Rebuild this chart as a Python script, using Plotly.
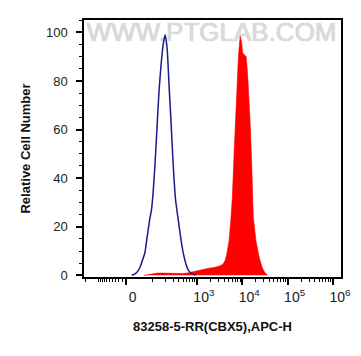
import numpy as np
import plotly.graph_objects as go

# ---- data (APC-H intensity, relative cell number) ----
blue_apc = [17, 29, 42, 53, 62, 70, 83, 93, 101, 114, 130, 142, 159, 177, 197,
            219, 243, 266, 300, 338, 389, 443, 504, 588, 652, 762, 936]
blue_count = [0, 0.8, 3, 6.5, 9.5, 15, 22.7, 27, 33, 46, 64, 76, 87, 95, 99,
              93, 77, 64, 45, 31, 22.7, 15, 8.9, 4, 2, 0.8, 0]

red_apc = [57, 75, 101, 135, 177, 231, 351, 504, 652, 844, 1092, 1413, 1827, 2362,
           3055, 3752, 4158, 4493, 5108, 5575, 6053, 6604, 7133, 7586, 8237, 8991,
           9711, 10224, 11043, 12238, 13219, 13775, 15030, 16234, 17535, 20142,
           23873, 27850, 30866, 36003]
red_count = [0, 0.3, 0.6, 0.9, 0.9, 0.9, 0.6, 0.7, 1.0, 1.5, 2.1, 2.6, 2.9, 3.2,
             3.7, 4.5, 6, 8, 14, 22, 32, 50, 63, 77, 90, 98.5,
             96, 91.5, 91, 90, 82, 77, 62, 45, 24, 14,
             7, 3, 1.4, 0]

major_ticks = [0, 1e3, 1e4, 1e5, 1e6]
major_labels = ["0", "10<sup>3</sup>", "10<sup>4</sup>", "10<sup>5</sup>", "10<sup>6</sup>"]
minor_ticks = ([-200, -100] + list(range(-90, 0, 10)) + list(range(100, 1000, 100))
               + list(range(2000, 10000, 1000)) + list(range(20000, 100000, 10000))
               + list(range(200000, 1000000, 100000)))

x_range_raw = [-220, 1.5e6]
y_range = [-0.7, 105.1]

W = 54.0


def tf(v):
    return np.arcsinh(np.asarray(v, dtype=float) / W) / np.log(10)


xr = [float(tf(x_range_raw[0])), float(tf(x_range_raw[1]))]

fig = go.Figure()

# watermark (under the data)
fig.add_trace(go.Scatter(
    x=[(xr[0] + xr[1]) / 2 - 0.02], y=[y_range[1] - 5.8], mode="text",
    text=["WWW.PTGLAB.COM"],
    textfont=dict(family="Liberation Sans, Arial", size=26, color="#dcdcdc",
                  shadow="0px 0px 1px #a8a8a8"),
    hoverinfo="skip", showlegend=False))

fig.add_trace(go.Scatter(
    x=tf(red_apc), y=red_count, mode="lines", fill="tozeroy",
    fillcolor="#ff0000", line=dict(color="#ff0000", width=0.6),
    showlegend=False))

fig.add_trace(go.Scatter(
    x=tf(blue_apc), y=blue_count, mode="lines",
    line=dict(color="#1a1a8c", width=1.5, shape="spline", smoothing=0.5),
    showlegend=False))

# helper trace so the minor-tick axis is drawn
fig.add_trace(go.Scatter(x=[None], y=[None], xaxis="x2", showlegend=False,
                         hoverinfo="skip"))

tick_font = dict(family="Liberation Sans, Arial", size=13, color="#222")
title_font = dict(family="Liberation Sans, Arial", size=13, color="#111")

# the page body adds an 8 px offset, so the figure is 353x348 drawn at (8, 8)
fig.update_layout(
    width=353, height=348,
    margin=dict(l=76, r=20, t=12, b=79, autoexpand=False),
    paper_bgcolor="white", plot_bgcolor="white",
    xaxis=dict(
        range=xr, showgrid=False, zeroline=False, automargin=False,
        showline=True, linecolor="black", linewidth=1.5, mirror=True,
        ticks="outside", ticklen=6, tickwidth=1.5, tickcolor="black",
        tickvals=tf(major_ticks), ticktext=major_labels,
        ticklabelshift=7, ticklabeloverflow="allow",
        tickfont=dict(family="Liberation Sans, Arial", size=14, color="#222"),
        title=dict(text="<b>83258-5-RR(CBX5),APC-H</b>", font=title_font, standoff=18),
    ),
    xaxis2=dict(
        range=xr, overlaying="x", anchor="y", side="bottom", automargin=False,
        showgrid=False, zeroline=False, showline=False,
        ticks="outside", ticklen=3.5, tickwidth=1, tickcolor="black",
        tickvals=tf(minor_ticks), showticklabels=False,
    ),
    yaxis=dict(
        range=y_range, showgrid=False, zeroline=False, automargin=False,
        showline=True, linecolor="black", linewidth=1.5, mirror=True,
        ticks="outside", ticklen=6, tickwidth=2, tickcolor="black",
        tick0=0, dtick=20, tickfont=tick_font, ticklabelstandoff=6,
        minor=dict(dtick=5, tick0=0, ticks="outside", ticklen=3, tickwidth=1,
                   tickcolor="black"),
        title=dict(text="<b>Relative Cell Number</b>", font=title_font, standoff=12),
    ),
)

fig.write_html("out.html")
